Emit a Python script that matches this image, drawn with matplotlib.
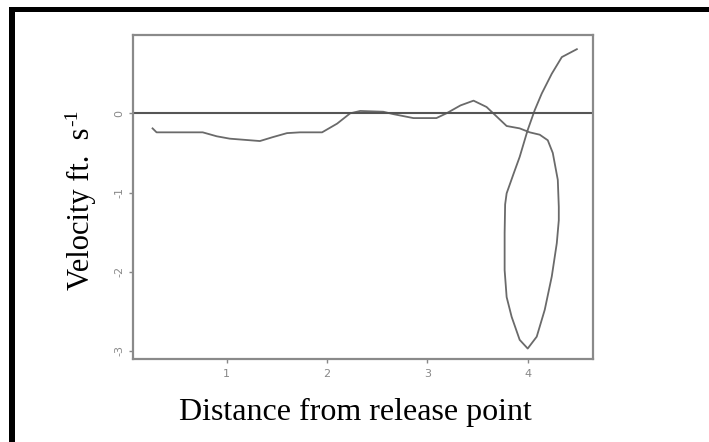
import matplotlib
matplotlib.use("Agg")
import matplotlib.pyplot as plt
from matplotlib.patches import Rectangle

# Data (path in drawing order)
dist = [0.26, 0.30, 0.76, 0.90, 1.03, 1.33, 1.46, 1.60, 1.73, 1.95, 2.10, 2.23, 2.33,
        2.56, 2.66, 2.86, 3.09, 3.19, 3.33, 3.46, 3.59, 3.69, 3.79, 3.92, 4.02,
        4.12, 4.20, 4.25, 4.30, 4.31, 4.31, 4.29, 4.24, 4.17, 4.09, 4.00, 3.92,
        3.84, 3.79, 3.77, 3.77, 3.775, 3.79, 3.86, 3.92, 4.00, 4.07, 4.14, 4.24,
        4.34, 4.49]
vel = [-0.19, -0.24, -0.24, -0.29, -0.32, -0.35, -0.30, -0.25, -0.24, -0.24, -0.13, 0.0, 0.03,
       0.02, -0.01, -0.06, -0.06, 0.0, 0.10, 0.16, 0.08, -0.04, -0.16, -0.19, -0.24,
       -0.27, -0.34, -0.50, -0.84, -1.18, -1.35, -1.64, -2.06, -2.48, -2.82, -2.97, -2.86,
       -2.57, -2.32, -1.98, -1.51, -1.15, -1.01, -0.76, -0.55, -0.21, 0.04, 0.25, 0.50,
       0.71, 0.81]

x_ticks = [1, 2, 3, 4]
y_ticks = [0, -1, -2, -3]
x_label = "Distance from release point"
y_label_main = "Velocity ft.  s"
y_label_sup = "-1"

W, H = 709, 442
fig = plt.figure(figsize=(W/100, H/100), dpi=100)
ax = fig.add_axes([133/W, 1-359/H, (593-133)/W, (359-35)/H])

ax.plot(dist, vel, color='#6a6a6a', lw=1.3)
ax.axhline(0, color='#555555', lw=1.5)

ax.set_xlim(0.065, 4.651)
ax.set_ylim(-3.102, 0.989)
ax.set_xticks(x_ticks)
ax.set_yticks(y_ticks)
ax.set_xticklabels([str(v) for v in x_ticks])
ax.set_yticklabels([str(v) for v in y_ticks], rotation=90, va='center')
ax.tick_params(axis='both', colors='#888888', labelcolor='#888888', labelsize=8,
               length=3, width=1)
ax.tick_params(axis='x', pad=4)
ax.tick_params(axis='y', pad=3)

for s in ax.spines.values():
    s.set_color('#8a8a8a')
    s.set_linewidth(1.6)

fig.text(355/W, 1-412/H, x_label, ha='center', va='center',
         family='Liberation Serif', fontsize=23)

t = fig.text(81/W, 1-290/H, y_label_main, ha='center', va='bottom', rotation=90,
             family='Liberation Serif', fontsize=22)
fig.canvas.draw()
bb = t.get_window_extent()
fig.text((bb.x0 - 2)/W, (bb.y1 + 1)/H, y_label_sup, ha='left', va='bottom', rotation=90,
         family='Liberation Serif', fontsize=14)

# outer black frame (only left and top visible)
fig.add_artist(Rectangle((9/W, 0), 6/W, 1-7/H, transform=fig.transFigure,
                         color='black', lw=0))
fig.add_artist(Rectangle((9/W, 1-12/H), 1, 5/H, transform=fig.transFigure,
                         color='black', lw=0))

fig.savefig('out.png', dpi=100)
